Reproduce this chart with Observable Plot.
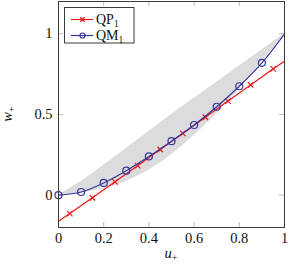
<!DOCTYPE html>
<html><head><meta charset="utf-8">
<script src="https://cdn.jsdelivr.net/npm/d3@7"></script>
<script src="https://cdn.jsdelivr.net/npm/@observablehq/plot@0.6"></script>
<style>body{margin:0;background:#fff} svg{display:block}</style>
</head><body><div id="chart"></div>
<script>
// Grey band (envelope)
const bandX = [0, 0.1, 0.2, 0.3, 0.4, 0.5, 0.6, 0.7, 0.8, 0.9, 1];
const bandLower = [0, 0.012, 0.04, 0.085, 0.155, 0.25, 0.37, 0.505, 0.655, 0.825, 1];
const bandUpper = [0, 0.085, 0.185, 0.29, 0.395, 0.5, 0.6, 0.7, 0.8, 0.9, 1];
// QM1 (blue, circles)
const qmX = [0, 0.1, 0.2, 0.3, 0.4, 0.5, 0.6, 0.7, 0.8, 0.9, 1];
const qmY = [0, 0.02, 0.076, 0.152, 0.24, 0.335, 0.435, 0.548, 0.675, 0.82, 1.0];
const qmMarkX = [0, 0.1, 0.2, 0.3, 0.4, 0.5, 0.6, 0.7, 0.8, 0.9];
// QP1 (red, crosses)
const qpX = [0, 0.05, 0.15, 0.25, 0.35, 0.45, 0.55, 0.65, 0.75, 0.85, 0.95, 1];
const qpY = [-0.162, -0.114, -0.016, 0.083, 0.183, 0.283, 0.383, 0.483, 0.583, 0.683, 0.783, 0.83];
const qpMarkX = [0.05, 0.15, 0.25, 0.35, 0.45, 0.55, 0.65, 0.75, 0.85, 0.95];
// ticks
const xTicks = [0, 0.2, 0.4, 0.6, 0.8, 1];
const yTicks = [0, 0.5, 1];
const seriesNames = ["QP", "QM"];

const RED = "#f01818", BLUE = "#36369a", GREY = "#dcdcde";
const W = 293, H = 267, mT = 1, mB = 40, mL = 58, mR = 9;
const plotH = H - mT - mB, plotW = W - mL - mR, tl = 5;

const band = bandX.map((x, i) => ({x, lo: bandLower[i], hi: bandUpper[i]}));
const qm = qmX.map((x, i) => ({x, y: qmY[i]}));
const qmMarks = qm.filter(d => qmMarkX.includes(d.x));
const qp = qpX.map((x, i) => ({x, y: qpY[i]}));
const qpMarks = qp.filter(d => qpMarkX.includes(d.x));

const font = "'Liberation Serif', 'DejaVu Serif', serif";
const chart = Plot.plot({
  width: W, height: H,
  marginTop: mT, marginBottom: mB, marginLeft: mL, marginRight: mR,
  style: {fontFamily: font, fontSize: "14.5px", color: "#111", background: "#fff"},
  x: {domain: [0, 1]},
  y: {domain: [-0.2, 1.2]},
  marks: [
    Plot.areaY(band, {x: "x", y1: "lo", y2: "hi", fill: GREY, curve: "catmull-rom"}),
    // inside tick marks on all four sides
    Plot.tickX(xTicks, {x: d => d, insetTop: plotH - tl, stroke: "#bcbcbc"}),
    Plot.tickX(xTicks, {x: d => d, insetBottom: plotH - tl, stroke: "#bcbcbc"}),
    Plot.tickY(yTicks, {y: d => d, insetRight: plotW - tl, stroke: "#bcbcbc"}),
    Plot.tickY(yTicks, {y: d => d, insetLeft: plotW - tl, stroke: "#bcbcbc"}),
    Plot.line(qp, {x: "x", y: "y", stroke: RED, strokeWidth: 1.2}),
    Plot.dot(qpMarks, {x: "x", y: "y", symbol: "times", r: 2.6, stroke: RED, strokeWidth: 1.2}),
    Plot.line(qm, {x: "x", y: "y", stroke: BLUE, strokeWidth: 1.2, curve: "catmull-rom"}),
    Plot.dot(qmMarks, {x: "x", y: "y", symbol: "circle", r: 3.5, stroke: BLUE, strokeWidth: 1.2, fill: "none"}),
    Plot.axisX(xTicks, {tickSize: 0, tickPadding: 5, fontSize: 14.5, label: null, tickFormat: d => String(d)}),
    Plot.axisY(yTicks, {tickSize: 0, tickPadding: 6, fontSize: 14.5, label: null, tickFormat: d => String(d)}),
    Plot.frame({stroke: "#3a3a3a", strokeWidth: 1})
  ]
});
document.getElementById("chart").appendChild(chart);

// axis labels and legend with subscripts
const svg = d3.select(chart);
const xl = svg.append("text").attr("x", mL + plotW / 2).attr("y", 258)
  .attr("text-anchor", "middle").attr("font-family", font).attr("font-size", 14.5).attr("fill", "#111");
xl.append("tspan").attr("font-style", "italic").text("u");
xl.append("tspan").attr("font-size", 10).attr("dy", 3).text("+");
const yl = svg.append("text").attr("transform", `translate(12,${mT + plotH / 2}) rotate(-90)`)
  .attr("text-anchor", "middle").attr("font-family", font).attr("font-size", 14.5).attr("fill", "#111");
yl.append("tspan").attr("font-style", "italic").text("w");
yl.append("tspan").attr("font-size", 10).attr("dy", 3).text("+");

const lg = svg.append("g");
lg.append("rect").attr("x", 64.5).attr("y", 7.5).attr("width", 69.5).attr("height", 35.5)
  .attr("fill", "#fff").attr("stroke", "#3a3a3a").attr("stroke-width", 1);
const rows = [{name: seriesNames[0], color: RED, sym: "x"}, {name: seriesNames[1], color: BLUE, sym: "o"}];
rows.forEach((r, i) => {
  const cy = 19.5 + i * 16;
  lg.append("line").attr("x1", 71).attr("x2", 93).attr("y1", cy).attr("y2", cy)
    .attr("stroke", r.color).attr("stroke-width", 1.2);
  if (r.sym === "x") {
    const s = 2.2, cx = 82.5;
    lg.append("path").attr("d", `M${cx - s},${cy - s}L${cx + s},${cy + s}M${cx - s},${cy + s}L${cx + s},${cy - s}`)
      .attr("stroke", r.color).attr("stroke-width", 1.3);
  } else {
    lg.append("circle").attr("cx", 82.5).attr("cy", cy).attr("r", 2.5)
      .attr("fill", "none").attr("stroke", r.color).attr("stroke-width", 1.2);
  }
  const t = lg.append("text").attr("x", 96).attr("y", cy + 4.8).attr("text-anchor", "start")
    .attr("font-family", font).attr("font-size", 14).attr("fill", "#111");
  t.append("tspan").text(r.name);
  t.append("tspan").attr("font-size", 9.5).attr("dy", 3).text("1");
});
</script></body></html>
